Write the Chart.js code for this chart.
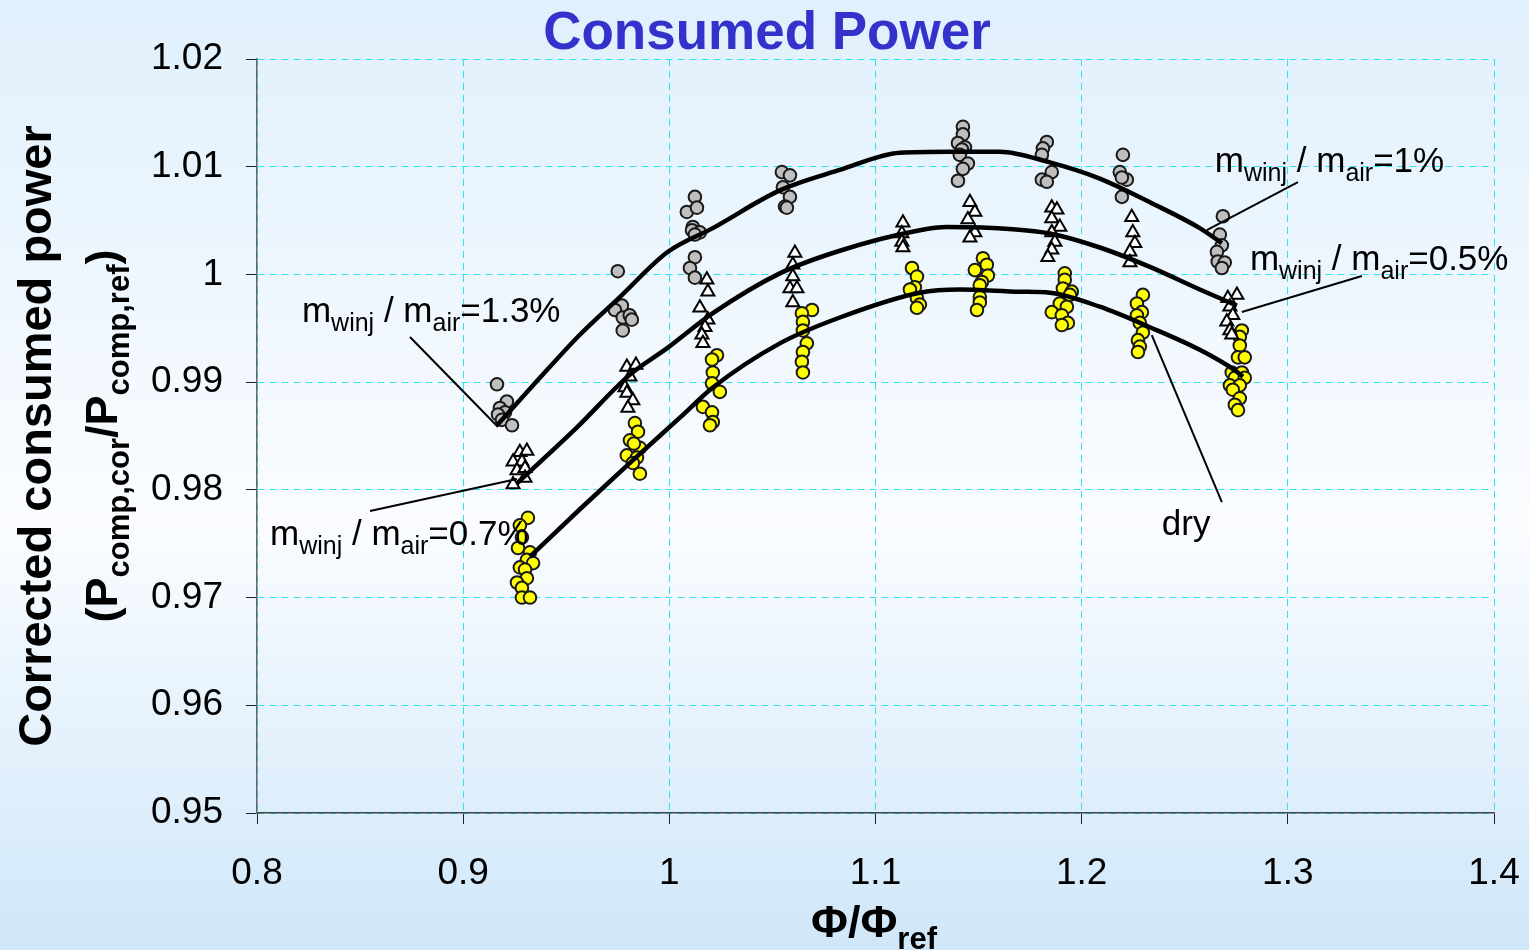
<!DOCTYPE html>
<html lang="en">
<head>
  <meta charset="UTF-8" />
  <title>Consumed Power</title>
  <script src="https://cdn.jsdelivr.net/npm/chart.js"></script>
  <style>
    html, body {
      margin: 0;
      padding: 0;
      background: #eaf5fd;
    }
    #wrap {
      width: 1529px;
      height: 950px;
    }
  </style>
</head>
<body>
  <div id="wrap"><canvas id="powerChart" width="1529" height="950"></canvas></div>

  <script>
    // axis ticks
    const xTicks = [0.8, 0.9, 1.0, 1.1, 1.2, 1.3, 1.4];
    const xTickLabels = ['0.8', '0.9', '1', '1.1', '1.2', '1.3', '1.4'];
    const yTicks = [0.95, 0.96, 0.97, 0.98, 0.99, 1.0, 1.01, 1.02];
    const yTickLabels = ['0.95', '0.96', '0.97', '0.98', '0.99', '1', '1.01', '1.02'];

    // measurements with the highest water injection (grey circles), one row per operating point
    const wetHighX = [
      0.9164, 0.9212, 0.9178, 0.9203, 0.9169, 0.9188, 0.9237,
      0.9750, 0.9770, 0.9736, 0.9774, 0.9808, 0.9774, 0.9818,
      1.0124, 1.0085, 1.0134, 1.0114, 1.0110, 1.0148, 1.0124, 1.0124, 1.0100, 1.0124,
      1.0546, 1.0585, 1.0551, 1.0585, 1.0561, 1.0570,
      1.1424, 1.1424, 1.1400, 1.1434, 1.1419, 1.1409, 1.1448, 1.1424, 1.1400,
      1.1831, 1.1812, 1.1807, 1.1855, 1.1807, 1.1831,
      1.2200, 1.2185, 1.2219, 1.2195, 1.2195,
      1.2685, 1.2670, 1.2680, 1.2656, 1.2660, 1.2694, 1.2680
    ];
    const wetHighY = [
      0.9898, 0.9882, 0.9876, 0.9872, 0.9870, 0.9865, 0.9860,
      1.0003, 0.9971, 0.9967, 0.9960, 0.9962, 0.9948, 0.9958,
      1.0072, 1.0058, 1.0062, 1.0044, 1.0041, 1.0039, 1.0037, 1.0016, 1.0006, 0.9997,
      1.0095, 1.0092, 1.0081, 1.0072, 1.0063, 1.0062,
      1.0137, 1.0130, 1.0122, 1.0118, 1.0116, 1.0111, 1.0103, 1.0098, 1.0087,
      1.0123, 1.0117, 1.0111, 1.0095, 1.0088, 1.0086,
      1.0111, 1.0095, 1.0088, 1.0090, 1.0072,
      1.0054, 1.0037, 1.0027, 1.0021, 1.0012, 1.0011, 1.0006
    ];

    // medium water injection (open triangles)
    const wetMidX = [
      0.9275, 0.9309, 0.9242, 0.9285, 0.9261, 0.9300, 0.9242, 0.9300,
      0.9794, 0.9838, 0.9809, 0.9785, 0.9794, 0.9823, 0.9799,
      1.0182, 1.0187, 1.0148, 1.0187, 1.0173, 1.0158, 1.0163,
      1.0609, 1.0599, 1.0599, 1.0585, 1.0619, 1.0599,
      1.1133, 1.1128, 1.1128, 1.1133,
      1.1458, 1.1482, 1.1448, 1.1482, 1.1458,
      1.1855, 1.1880, 1.1855, 1.1894, 1.1855, 1.1870, 1.1855, 1.1836,
      1.2243, 1.2248, 1.2258, 1.2234, 1.2234,
      1.2753, 1.2709, 1.2719, 1.2733, 1.2704, 1.2719, 1.2728
    ];
    const wetMidY = [
      0.9835, 0.9836, 0.9826, 0.9826, 0.9818, 0.9820, 0.9805, 0.9811,
      0.9914, 0.9916, 0.9905, 0.9895, 0.9890, 0.9883, 0.9876,
      0.9995, 0.9984, 0.9969, 0.9958, 0.9951, 0.9944, 0.9936,
      1.0020, 1.0009, 0.9998, 0.9987, 0.9987, 0.9974,
      1.0048, 1.0038, 1.0030, 1.0025,
      1.0067, 1.0058, 1.0051, 1.0039, 1.0034,
      1.0062, 1.0060, 1.0052, 1.0044, 1.0039, 1.0030, 1.0023, 1.0016,
      1.0053, 1.0039, 1.0029, 1.0021, 1.0011,
      0.9981, 0.9978, 0.9970, 0.9962, 0.9956, 0.9948, 0.9944
    ];

    // dry compression (yellow circles)
    const dryX = [
      0.9314, 0.9275, 0.9285, 0.9266, 0.9324, 0.9309, 0.9339, 0.9275, 0.9300, 0.9309, 0.9261, 0.9285, 0.9285, 0.9324,
      0.9833, 0.9848, 0.9809, 0.9857, 0.9794, 0.9843, 0.9823, 0.9857, 0.9828,
      1.0231, 1.0207, 1.0211, 1.0207, 1.0245, 1.0163, 1.0207, 1.0211, 1.0197,
      1.0692, 1.0643, 1.0648, 1.0648, 1.0667, 1.0648, 1.0643, 1.0648,
      1.1177, 1.1201, 1.1191, 1.1167, 1.1201, 1.1215, 1.1201,
      1.1521, 1.1540, 1.1482, 1.1545, 1.1516, 1.1506, 1.1506, 1.1506, 1.1492,
      1.1918, 1.1918, 1.1909, 1.1952, 1.1943, 1.1894, 1.1928, 1.1855, 1.1904, 1.1933, 1.1904,
      1.2297, 1.2268, 1.2292, 1.2268, 1.2282, 1.2297, 1.2273, 1.2282, 1.2273,
      1.2777, 1.2767, 1.2767, 1.2758, 1.2791, 1.2728, 1.2777, 1.2743, 1.2791, 1.2719, 1.2767, 1.2733, 1.2767, 1.2743, 1.2758
    ];
    const dryY = [
      0.9774, 0.9767, 0.9756, 0.9746, 0.9742, 0.9735, 0.9732, 0.9728, 0.9726, 0.9718, 0.9714, 0.9709, 0.9700, 0.9700,
      0.9862, 0.9854, 0.9846, 0.9839, 0.9832, 0.9830, 0.9825, 0.9815, 0.9843,
      0.9925, 0.9921, 0.9909, 0.9899, 0.9891, 0.9877, 0.9872, 0.9863, 0.9860,
      0.9967, 0.9964, 0.9956, 0.9948, 0.9936, 0.9928, 0.9919, 0.9909,
      1.0006, 0.9998, 0.9988, 0.9986, 0.9978, 0.9972, 0.9969,
      1.0015, 1.0009, 1.0004, 0.9999, 0.9993, 0.9990, 0.9979, 0.9974, 0.9967,
      1.0001, 0.9995, 0.9987, 0.9984, 0.9981, 0.9973, 0.9970, 0.9965, 0.9962, 0.9955, 0.9953,
      0.9981, 0.9973, 0.9965, 0.9962, 0.9955, 0.9946, 0.9939, 0.9933, 0.9928,
      0.9948, 0.9942, 0.9934, 0.9923, 0.9923, 0.9909, 0.9909, 0.9904, 0.9904, 0.9897, 0.9897, 0.9893, 0.9885, 0.9879, 0.9874
    ];

    // trend curves through each group
    const trendHighX = [0.9164, 0.9372, 0.9566, 0.9760, 0.9993, 1.0211, 1.0536, 1.0827, 1.1118, 1.1361, 1.1603, 1.1846, 1.2088, 1.2331, 1.2573, 1.2680];
    const trendHighY = [0.9860, 0.9904, 0.9944, 0.9979, 1.0021, 1.0043, 1.0078, 1.0097, 1.0113, 1.0114, 1.0114, 1.0104, 1.0089, 1.0067, 1.0043, 1.0029];
    const trendMidX = [0.9261, 0.9552, 0.9809, 0.9993, 1.0211, 1.0536, 1.0827, 1.1215, 1.1346, 1.1666, 1.1846, 1.2088, 1.2331, 1.2573, 1.2753];
    const trendMidY = [0.9806, 0.9858, 0.9907, 0.9932, 0.9964, 1.0001, 1.0022, 1.0041, 1.0044, 1.0042, 1.0038, 1.0025, 1.0007, 0.9986, 0.9971];
    const trendDryX = [0.9324, 0.9566, 0.9809, 1.0051, 1.0211, 1.0536, 1.0827, 1.1215, 1.1409, 1.1700, 1.1846, 1.2088, 1.2331, 1.2573, 1.2743, 1.2782];
    const trendDryY = [0.9738, 0.9782, 0.9825, 0.9867, 0.9895, 0.9936, 0.9960, 0.9983, 0.9986, 0.9984, 0.9983, 0.9970, 0.9951, 0.9930, 0.9911, 0.9905];

    const FONT = '"Liberation Sans", Arial, Helvetica, sans-serif';

    const pairs = (xs, ys) => xs.map((x, i) => ({ x: x, y: ys[i] }));

    function trend(xs, ys) {
      return {
        data: pairs(xs, ys),
        showLine: true,
        borderColor: '#000',
        borderWidth: 4.5,
        pointRadius: 0,
        cubicInterpolationMode: 'monotone'
      };
    }

    // text with subscripts: parts are [text, isSub]
    function drawRich(ctx, parts, x, y, size, subSize, bold, align) {
      const w = bold ? 'bold ' : '';
      const mainFont = w + size + 'px ' + FONT;
      const subFont = w + subSize + 'px ' + FONT;
      let total = 0;
      parts.forEach(p => {
        ctx.font = p[1] ? subFont : mainFont;
        total += ctx.measureText(p[0]).width;
      });
      let cx = align === 'center' ? x - total / 2 : x;
      ctx.textAlign = 'left';
      ctx.textBaseline = 'alphabetic';
      parts.forEach(p => {
        ctx.font = p[1] ? subFont : mainFont;
        ctx.fillText(p[0], cx, p[1] ? y + size * 0.26 : y);
        cx += ctx.measureText(p[0]).width;
      });
    }

    const ratio = pct => [['m'], ['winj', 1], [' / '], ['m'], ['air', 1], ['=' + pct]];

    // callouts in data coordinates: label anchor, leader start and end
    const callouts = [
      { parts: ratio('1%'), at: [1.2646, 1.00951], from: [1.3049, 1.00858], to: [1.2607, 1.00412] },
      { parts: ratio('0.5%'), at: [1.2816, 1.00041], from: [1.3359, 0.99985], to: [1.2777, 0.99651] },
      { parts: ratio('1.3%'), at: [0.8218, 0.99558], from: [0.8742, 0.99419], to: [0.9169, 0.98583] },
      { parts: ratio('0.7%'), at: [0.8063, 0.97487], from: [0.8548, 0.97803], to: [0.9261, 0.98100] },
      { parts: [['dry']], at: [1.2389, 0.97580], from: [1.2340, 0.99437], to: [1.2680, 0.97887] }
    ];

    const backdrop = {
      id: 'backdrop',
      beforeDraw(chart) {
        const { ctx, width, height } = chart;
        const g = ctx.createLinearGradient(0, 0, 0, height);
        g.addColorStop(0, '#e0f0fc');
        g.addColorStop(0.55, '#fafcff');
        g.addColorStop(1, '#cfe7f9');
        ctx.save();
        ctx.fillStyle = g;
        ctx.fillRect(0, 0, width, height);
        ctx.restore();
      }
    };

    const labels = {
      id: 'labels',
      afterDatasetsDraw(chart) {
        const { ctx, chartArea } = chart;
        const xs = chart.scales.x, ys = chart.scales.y;
        ctx.save();

        // leaders and callout text
        ctx.strokeStyle = '#000';
        ctx.lineWidth = 2;
        ctx.fillStyle = '#000';
        callouts.forEach(c => {
          ctx.beginPath();
          ctx.moveTo(xs.getPixelForValue(c.from[0]), ys.getPixelForValue(c.from[1]));
          ctx.lineTo(xs.getPixelForValue(c.to[0]), ys.getPixelForValue(c.to[1]));
          ctx.stroke();
          drawRich(ctx, c.parts, xs.getPixelForValue(c.at[0]), ys.getPixelForValue(c.at[1]), 35, 25, false, 'left');
        });

        // chart title
        ctx.fillStyle = '#3333cc';
        ctx.font = 'bold 53px ' + FONT;
        ctx.textAlign = 'center';
        ctx.textBaseline = 'alphabetic';
        ctx.fillText('Consumed Power', 767, 49);

        // x axis title
        ctx.fillStyle = '#000';
        drawRich(ctx, [['\u03A6/\u03A6'], ['ref', 1]], 874, 937, 45, 31, true, 'center');

        // y axis title, two rotated lines
        const midY = (chartArea.top + chartArea.bottom) / 2;
        ctx.save();
        ctx.translate(51, midY);
        ctx.rotate(-Math.PI / 2);
        ctx.font = 'bold 47px ' + FONT;
        ctx.textAlign = 'center';
        ctx.fillText('Corrected consumed power', 0, 0);
        ctx.restore();

        ctx.save();
        ctx.translate(117, midY);
        ctx.rotate(-Math.PI / 2);
        drawRich(ctx, [['(P'], ['comp,cor', 1], ['/P'], ['comp,ref', 1], [')']], 0, 0, 45, 31, true, 'center');
        ctx.restore();

        ctx.restore();
      }
    };

    new Chart(document.getElementById('powerChart'), {
      type: 'scatter',
      data: {
        datasets: [
          trend(trendHighX, trendHighY),
          trend(trendMidX, trendMidY),
          trend(trendDryX, trendDryY),
          {
            data: pairs(wetHighX, wetHighY),
            pointStyle: 'circle',
            pointRadius: 6.3,
            pointBackgroundColor: '#bfbfbf',
            pointBorderColor: '#1a1a1a',
            pointBorderWidth: 2
          },
          {
            data: pairs(wetMidX, wetMidY),
            pointStyle: 'triangle',
            pointRadius: 7.5,
            pointBackgroundColor: '#ffffff',
            pointBorderColor: '#000',
            pointBorderWidth: 2
          },
          {
            data: pairs(dryX, dryY),
            pointStyle: 'circle',
            pointRadius: 6.3,
            pointBackgroundColor: '#ffff00',
            pointBorderColor: '#1a1a1a',
            pointBorderWidth: 2
          }
        ]
      },
      options: {
        responsive: false,
        animation: false,
        layout: { padding: { top: 59, right: 35, left: 0, bottom: 0 } },
        plugins: {
          legend: { display: false },
          tooltip: { enabled: false }
        },
        scales: {
          x: {
            type: 'linear',
            min: 0.8,
            max: 1.4,
            afterBuildTicks: s => { s.ticks = xTicks.map(v => ({ value: v })); },
            afterFit: s => {
              s.height = 137;
              s.paddingLeft = 0;
              s.paddingRight = 0;
            },
            grid: { color: '#2de3f0', lineWidth: 1, tickColor: '#222', tickLength: 11 },
            border: { color: '#444', width: 1.5, dash: [7, 5] },
            ticks: {
              callback: (v, i) => xTickLabels[i],
              color: '#000',
              padding: 28,
              maxRotation: 0,
              font: { family: FONT, size: 37 }
            }
          },
          y: {
            type: 'linear',
            min: 0.95,
            max: 1.02,
            afterBuildTicks: s => { s.ticks = yTicks.map(v => ({ value: v })); },
            afterFit: s => {
              s.width = 257;
              s.paddingTop = 0;
              s.paddingBottom = 0;
            },
            grid: { color: '#2de3f0', lineWidth: 1, tickColor: '#222', tickLength: 11 },
            border: { color: '#666', width: 1.5, dash: [7, 5] },
            ticks: {
              callback: (v, i) => yTickLabels[i],
              color: '#000',
              padding: 23,
              font: { family: FONT, size: 37 }
            }
          }
        }
      },
      plugins: [backdrop, labels]
    });
  </script>
</body>
</html>
